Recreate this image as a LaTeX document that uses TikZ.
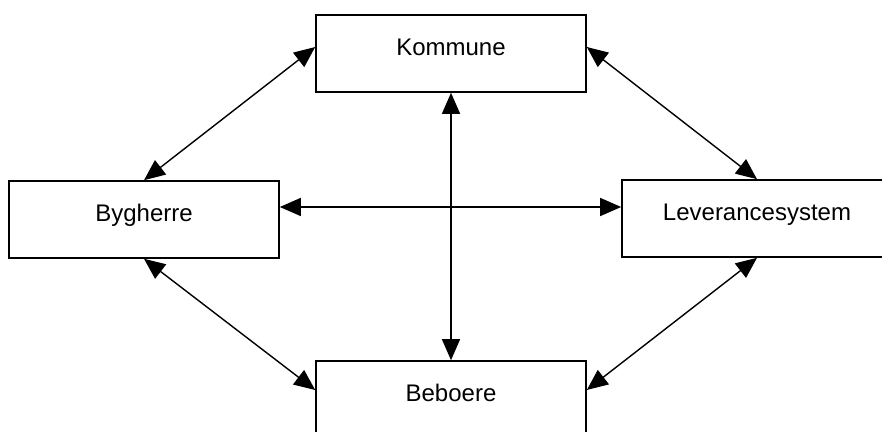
\documentclass[tikz,border=0pt]{standalone}
\usepackage{fontspec}
\setmainfont{Liberation Sans}
\usetikzlibrary{arrows.meta}

\begin{document}
\begin{tikzpicture}[x=0.5pt,y=-0.5pt,font=\fontsize{12}{14}\selectfont,>={Triangle[length=10.5pt,width=9pt]},
 party/.style={draw,line width=.8pt,minimum width=135pt,minimum height=38.5pt,text height=10pt,text depth=7.6pt,inner sep=2pt},
 link/.style={<->,line width=.7pt}]
\useasboundingbox (0,0) rectangle (882,432);
\node[party] (kom) at (451,53.5) {Kommune};
\node[party] (byg) at (144,219.5) {Bygherre};
\node[party] (lev) at (757,218.5) {Leverancesystem};
\node[party] (beb) at (451,399.5) {Beboere};
\draw[link] (byg.north)--([yshift=3.25pt]kom.west);
\draw[link] ([yshift=3.25pt]kom.east)--(lev.north);
\draw[link] (byg.south)--([yshift=4.75pt]beb.west);
\draw[link] (lev.south)--([yshift=4.75pt]beb.east);
\draw[link] ([yshift=6.25pt]byg.east)--([yshift=5.75pt]lev.west);
\draw[link] (kom.south)--(beb.north);
\end{tikzpicture}
\end{document}
